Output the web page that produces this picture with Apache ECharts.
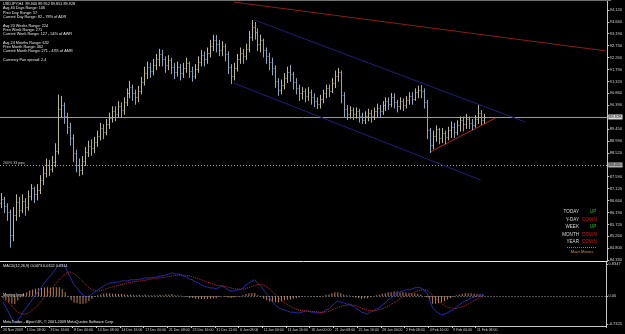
<!DOCTYPE html>
<html><head><meta charset="utf-8">
<script src="https://cdn.jsdelivr.net/npm/echarts@6/dist/echarts.min.js"></script>
<style>html,body{margin:0;padding:0;background:#000;}#c{width:625px;height:334px;}</style>
</head><body><div id="c"></div>
<script>
// ---------- data ----------
const firstOpen = 86.55;
const closes = [86.70,86.45,86.20,85.30,86.10,86.60,86.30,86.65,86.40,86.85,87.15,86.90,87.05,87.45,87.75,88.05,87.90,88.15,88.60,90.25,
90.40,89.95,89.55,89.10,88.50,88.05,87.85,88.20,88.55,88.80,88.70,88.95,89.20,89.50,89.35,89.65,89.90,90.15,90.05,90.35,
90.20,90.50,90.85,91.10,90.85,90.70,90.95,91.30,91.65,91.90,91.75,91.95,92.20,92.40,92.20,91.95,92.15,91.90,91.70,91.90,
91.65,91.85,92.05,91.75,91.55,91.80,92.10,92.35,92.20,92.45,92.70,92.95,92.80,92.55,92.70,92.40,91.90,91.55,91.85,92.20,
92.45,92.30,92.60,93.05,93.45,93.25,92.80,92.95,92.55,92.30,92.10,91.85,91.35,91.00,91.20,91.45,91.70,91.60,91.30,91.05,
90.85,90.95,90.75,90.90,90.70,90.55,90.45,90.65,90.85,91.05,90.95,91.25,91.55,91.70,90.80,90.25,90.05,90.20,90.05,90.15,
89.95,89.80,89.95,90.10,89.95,90.15,90.30,90.15,90.40,90.55,90.45,90.70,90.50,90.35,90.55,90.40,90.60,90.75,90.65,90.90,
91.00,90.95,90.50,89.40,88.85,89.20,89.45,89.10,89.30,89.15,89.40,89.55,89.35,89.60,89.80,89.65,89.85,89.70,89.60,89.85,
90.10,89.80,89.93];
const highs = [86.95,86.80,86.55,86.30,86.40,86.90,86.80,86.90,86.75,87.05,87.30,87.20,87.30,87.65,88.00,88.30,88.25,88.40,88.90,90.80,
90.75,90.50,90.10,89.70,89.25,88.65,88.30,88.40,88.75,89.00,89.05,89.15,89.40,89.70,89.65,89.85,90.10,90.35,90.35,90.55,
90.50,90.70,91.05,91.35,91.20,91.00,91.15,91.50,91.90,92.10,92.05,92.20,92.40,92.60,92.55,92.30,92.35,92.25,92.05,92.10,
92.00,92.05,92.25,92.10,91.90,92.00,92.30,92.55,92.50,92.65,92.95,93.15,93.14,92.95,92.90,92.80,92.50,92.00,92.05,92.40,
92.65,92.60,92.80,93.30,93.73,93.65,93.40,93.15,93.00,92.65,92.45,92.25,91.95,91.45,91.40,91.65,91.90,91.97,91.70,91.45,
91.20,91.10,91.05,91.10,91.00,90.85,90.70,90.80,91.00,91.20,91.20,91.45,91.75,91.85,91.75,90.90,90.40,90.35,90.30,90.30,
90.25,90.10,90.15,90.25,90.20,90.30,90.45,90.40,90.55,90.70,90.70,90.87,90.85,90.60,90.70,90.65,90.75,90.90,90.90,91.05,
91.15,91.18,91.05,90.60,89.50,89.40,89.60,89.50,89.50,89.40,89.55,89.75,89.70,89.80,89.95,89.95,90.05,89.95,89.85,90.00,
90.40,90.20,90.05];
const lows = [86.40,86.20,85.90,84.85,85.10,85.90,86.05,86.20,86.10,86.30,86.70,86.60,86.70,86.95,87.30,87.60,87.65,87.80,88.00,88.50,
89.95,89.70,89.30,88.85,88.20,87.80,87.65,87.70,88.05,88.40,88.45,88.55,88.80,89.05,89.10,89.25,89.50,89.75,89.80,89.95,
89.95,90.05,90.40,90.70,90.60,90.45,90.55,90.85,91.20,91.45,91.50,91.60,91.80,91.95,91.95,91.70,91.80,91.65,91.45,91.55,
91.40,91.50,91.70,91.50,91.35,91.45,91.70,91.95,91.95,92.05,92.30,92.55,92.50,92.35,92.35,92.15,91.65,91.26,91.40,91.75,
92.05,92.05,92.20,92.50,92.95,93.00,92.55,92.50,92.30,92.05,91.80,91.60,91.10,90.80,90.85,91.05,91.30,91.35,91.05,90.85,
90.60,90.65,90.55,90.60,90.45,90.35,90.28,90.30,90.50,90.70,90.75,90.90,91.10,91.35,90.50,89.95,89.85,89.90,89.85,89.90,
89.75,89.70,89.69,89.80,89.75,89.85,89.95,89.95,90.05,90.20,90.25,90.35,90.30,90.15,90.25,90.20,90.30,90.45,90.45,90.60,
90.70,90.70,90.30,89.10,88.56,88.70,89.00,88.90,88.95,88.90,89.05,89.15,89.15,89.25,89.40,89.40,89.50,89.50,89.45,89.55,
89.70,89.65,89.70];
const macdMain = [-0.16,-0.29,-0.44,-0.60,-0.70,-0.62,-0.52,-0.39,-0.29,-0.18,-0.08,0.03,0.13,0.23,0.34,0.44,0.52,0.62,0.73,0.81,
0.81,0.75,0.60,0.44,0.29,0.21,0.10,0.03,-0.03,0.00,0.05,0.10,0.16,0.21,0.26,0.31,0.34,0.34,0.36,0.36,
0.39,0.39,0.39,0.42,0.42,0.42,0.44,0.44,0.47,0.47,0.47,0.49,0.49,0.52,0.52,0.55,0.57,0.60,0.57,0.57,
0.55,0.52,0.49,0.44,0.42,0.36,0.34,0.29,0.26,0.23,0.21,0.21,0.18,0.23,0.26,0.21,0.16,0.13,0.13,0.16,
0.16,0.21,0.29,0.34,0.39,0.42,0.34,0.26,0.16,0.05,-0.05,-0.16,-0.23,-0.31,-0.34,-0.36,-0.39,-0.42,-0.42,-0.44,
-0.44,-0.42,-0.39,-0.39,-0.42,-0.42,-0.44,-0.44,-0.42,-0.36,-0.34,-0.26,-0.18,-0.13,-0.16,-0.18,-0.21,-0.21,-0.26,-0.31,
-0.36,-0.42,-0.44,-0.47,-0.42,-0.39,-0.34,-0.31,-0.23,-0.18,-0.10,-0.05,0.03,0.08,0.10,0.13,0.16,0.16,0.18,0.21,
0.23,0.21,0.16,0.10,-0.10,-0.31,-0.39,-0.44,-0.49,-0.47,-0.44,-0.39,-0.36,-0.29,-0.23,-0.18,-0.13,-0.10,-0.05,-0.03,
0.00,0.03,0.05];
const macdSignal = [-0.08,-0.12,-0.18,-0.26,-0.35,-0.42,-0.46,-0.47,-0.46,-0.42,-0.36,-0.29,-0.21,-0.12,-0.03,0.06,0.15,0.25,0.34,0.43,
0.51,0.58,0.62,0.62,0.58,0.52,0.45,0.37,0.29,0.22,0.17,0.14,0.13,0.14,0.16,0.19,0.22,0.24,0.26,0.28,
0.30,0.32,0.34,0.35,0.37,0.38,0.39,0.40,0.41,0.43,0.44,0.45,0.46,0.47,0.48,0.49,0.51,0.52,0.53,0.54,
0.54,0.54,0.53,0.52,0.50,0.47,0.45,0.42,0.39,0.36,0.33,0.31,0.28,0.27,0.26,0.25,0.23,0.21,0.19,0.18,
0.18,0.18,0.20,0.22,0.25,0.28,0.30,0.30,0.28,0.24,0.18,0.11,0.04,-0.04,-0.11,-0.17,-0.22,-0.27,-0.31,-0.34,
-0.37,-0.38,-0.39,-0.39,-0.40,-0.40,-0.41,-0.42,-0.42,-0.41,-0.40,-0.37,-0.34,-0.30,-0.27,-0.25,-0.24,-0.23,-0.24,-0.25,
-0.28,-0.31,-0.34,-0.37,-0.38,-0.38,-0.37,-0.36,-0.33,-0.30,-0.26,-0.22,-0.17,-0.12,-0.07,-0.03,0.01,0.04,0.07,0.10,
0.13,0.15,0.16,0.15,0.10,0.02,-0.06,-0.13,-0.20,-0.25,-0.29,-0.31,-0.32,-0.32,-0.30,-0.28,-0.25,-0.21,-0.17,-0.12,
-0.08,-0.03,0.02];
const macdHist = [-0.05,-0.10,-0.16,-0.20,-0.21,-0.12,-0.04,0.05,0.10,0.14,0.17,0.19,0.20,0.21,0.22,0.23,0.22,0.22,0.23,0.23,
0.18,0.10,-0.01,-0.11,-0.17,-0.19,-0.21,-0.20,-0.19,-0.13,-0.07,-0.02,0.02,0.04,0.06,0.07,0.07,0.06,0.06,0.05,
0.05,0.04,0.03,0.04,0.03,0.02,0.03,0.02,0.04,0.02,0.02,0.02,0.02,0.03,0.02,0.04,0.04,0.05,0.02,0.02,
0.01,-0.01,-0.02,-0.05,-0.05,-0.07,-0.07,-0.08,-0.08,-0.08,-0.07,-0.06,-0.06,-0.02,0.00,-0.02,-0.04,-0.05,-0.04,-0.01,
-0.01,0.02,0.05,0.07,0.08,0.08,0.02,-0.02,-0.07,-0.11,-0.14,-0.16,-0.16,-0.16,-0.14,-0.11,-0.10,-0.09,-0.07,-0.06,
-0.04,-0.02,0.00,0.00,-0.01,-0.01,-0.02,-0.01,0.00,0.03,0.04,0.07,0.10,0.10,0.07,0.04,0.02,0.01,-0.01,-0.04,
-0.05,-0.07,-0.06,-0.06,-0.02,0.00,0.02,0.03,0.06,0.07,0.10,0.10,0.12,0.12,0.10,0.10,0.09,0.07,0.07,0.07,
0.06,0.04,0.00,-0.03,-0.12,-0.20,-0.20,-0.19,-0.17,-0.13,-0.09,-0.05,-0.02,0.02,0.04,0.06,0.07,0.07,0.07,0.06,
0.05,0.04,0.03];
const totalSlots = 204;
const dateLabels = ["26 Nov 2009","1 Dec 08:00","3 Dec 16:00","8 Dec 00:00","10 Dec 08:00","14 Dec 16:00","17 Dec 00:00",
"21 Dec 08:00","23 Dec 16:00","31 Dec 12:00","6 Jan 08:00","11 Jan 00:00","13 Jan 16:00","18 Jan 00:00","21 Jan 08:00",
"25 Jan 16:00","28 Jan 00:00","2 Feb 08:00","4 Feb 16:00","9 Feb 00:00","11 Feb 08:00"];
const dateLabelStep = 8;
const priceTicks = [94.12,93.66,93.19,92.73,92.26,91.79,91.32,90.86,90.39,89.45,88.99,88.52,87.59,87.12,86.66,86.19,85.72,85.26,84.80,84.33];
const priceMin = 84.288, priceMax = 94.512;
const macdTicks = [0.8347, 0, -0.7325];
const macdMin = -0.779, macdMax = 0.883;
const bidPrice = 89.928;
const levelPrice = 88.05;
const levelText = "200% 33 pips";
const trendRed = [[78.3, 94.433], [203, 92.518]];
const channelUpper = [[85, 93.728], [175.7, 89.733]];
const channelLower = [[77.7, 91.26], [160.7, 87.461]];
const supportLine = [[144, 88.56], [166, 89.89]];
const infoLines = ["USDJPY,H4  89.900 89.952 89.851 89.928","Avg 40 Days Range: 106","Prev Day Range: 57",
"Current Day Range: 82 - 78% of ADR","","Avg 20 Weeks Range: 224","Prev Week Range: 271",
"Current Week Range: 127 - 54% of AWR","","Avg 24 Months Range: 632","Prev Month Range: 462",
"Current Month Range: 271 - 43% of AMR","","Currency Pair spread: 2.4"];
const moveNames = ["TODAY","Y-DAY","WEEK","MONTH","YEAR"];
const moveValues = ["UP","DOWN","UP","DOWN","DOWN"];
const macdTitle = "MACD(12,26,9) 0.0473 0.0152 0.0314";
const macdLevelText = "Moving level";
const copyright = "MetaTrader - Alpari UK, \u00a9 2001-2009 MetaQuotes Software Corp.";

// ---------- build ----------
const FONT = 'Liberation Sans';
const upColor = '#bdb98a', downColor = '#88a8c0';
const slots = Array.from({length: totalSlots}, (_, i) => String(i));
const ohlc = closes.map((c, i) => [i, i === 0 ? firstOpen : closes[i-1], highs[i], lows[i], c]);

function renderBar(params, api) {
  const i = api.value(0);
  const o = api.value(1), c = api.value(4);
  const ph = api.coord([i, api.value(2)]);
  const pl = api.coord([i, api.value(3)]);
  const po = api.coord([i, o]);
  const pc = api.coord([i, c]);
  const x = Math.round(ph[0]) + 0.5;
  const col = c >= o ? upColor : downColor;
  const yo = Math.round(po[1]) + 0.5, yc = Math.round(pc[1]) + 0.5;
  return {type: 'group', children: [
    {type: 'line', shape: {x1: x, y1: ph[1], x2: x, y2: pl[1] + 1}, style: {stroke: col, lineWidth: 1}},
    {type: 'line', shape: {x1: x - 1, y1: yo, x2: x, y2: yo}, style: {stroke: col, lineWidth: 1, opacity: 0.8}},
    {type: 'line', shape: {x1: x, y1: yc, x2: x + 1, y2: yc}, style: {stroke: col, lineWidth: 1, opacity: 0.8}}
  ]};
}
function seg(pts, color) {
  return [{coord: pts[0], lineStyle: {color: color, width: 1, type: 'solid'}, label: {show: false}}, {coord: pts[1]}];
}
const showDate = (i) => i % dateLabelStep === 0 && i / dateLabelStep < dateLabels.length;

const graphics = [];
graphics.push({type: 'rect', shape: {x: 0, y: 0, width: 611, height: 1}, style: {fill: '#707070'}, z: 100});
infoLines.forEach((t, k) => {
  if (!t) return;
  graphics.push({type: 'text', x: 3, y: 4 + k * 4.3, style: {text: t, fill: '#e6e6e6', fontSize: 3.8, fontFamily: FONT, verticalAlign: 'middle'}, z: 100});
});
moveNames.forEach((t, k) => {
  const y = 212 + k * 7.5;
  graphics.push({type: 'text', x: 579, y: y, style: {text: t, fill: '#d8d8d8', fontSize: 4.6, fontFamily: FONT, align: 'right', verticalAlign: 'middle'}, z: 100});
  const up = moveValues[k] === 'UP';
  graphics.push({type: 'text', x: up ? 593 : 589.5, y: y, style: {text: moveValues[k], fill: up ? '#1fbf1f' : '#d41c1c', fontSize: 4.6, fontFamily: FONT, align: 'center', verticalAlign: 'middle'}, z: 100});
});
graphics.push({type: 'line', shape: {x1: 567, y1: 247.5, x2: 597, y2: 247.5}, style: {stroke: '#b07030', lineWidth: 1, lineDash: [1, 1]}, z: 100});
graphics.push({type: 'text', x: 582, y: 251.5, style: {text: 'Main Moves', fill: '#e0901c', fontSize: 4.2, fontFamily: FONT, align: 'center', verticalAlign: 'middle'}, z: 100});
graphics.push({type: 'text', x: 3, y: 163, style: {text: levelText, fill: '#c8c8c8', fontSize: 3.6, fontFamily: FONT, verticalAlign: 'middle'}, z: 100});
graphics.push({type: 'text', x: 3, y: 266, style: {text: macdTitle, fill: '#e6e6e6', fontSize: 3.8, fontFamily: FONT, verticalAlign: 'middle'}, z: 100});
graphics.push({type: 'text', x: 3, y: 294.5, style: {text: macdLevelText, fill: '#e6e6e6', fontSize: 3.8, fontFamily: FONT, verticalAlign: 'middle'}, z: 100});
graphics.push({type: 'text', x: 3, y: 321.5, style: {text: copyright, fill: '#e6e6e6', fontSize: 3.8, fontFamily: FONT, verticalAlign: 'middle'}, z: 100});

const chart = echarts.init(document.getElementById('c'), null, {renderer: 'canvas'});
chart.setOption({
  backgroundColor: '#000000',
  animation: false,
  textStyle: {fontFamily: FONT},
  grid: [
    {left: 0, right: 14, top: 0, height: 261},
    {left: 0, right: 14, top: 262, height: 64}
  ],
  xAxis: [
    {type: 'category', gridIndex: 0, data: slots, boundaryGap: true,
     axisLine: {show: true, onZero: false, lineStyle: {color: '#e8e8e8', width: 1}},
     axisTick: {show: false}, axisLabel: {show: false}, splitLine: {show: false}},
    {type: 'category', gridIndex: 1, data: slots, boundaryGap: true,
     axisLine: {show: true, onZero: false, lineStyle: {color: '#c8c8c8', width: 1}},
     axisTick: {show: true, interval: showDate, length: 2, lineStyle: {color: '#c8c8c8'}},
     axisLabel: {show: true, interval: showDate, formatter: (v, i) => dateLabels[i / dateLabelStep] || '',
       color: '#d0d0d0', fontSize: 3.5, fontFamily: FONT, align: 'left', margin: 2.5},
     splitLine: {show: false}}
  ],
  yAxis: [
    {type: 'value', gridIndex: 0, position: 'right', min: priceMin, max: priceMax, scale: true,
     axisLine: {show: true, lineStyle: {color: '#c8c8c8', width: 1}},
     axisTick: {show: true, customValues: priceTicks, length: 2, lineStyle: {color: '#c8c8c8'}},
     axisLabel: {show: true, customValues: priceTicks, formatter: v => v.toFixed(3), color: '#d0d0d0', fontSize: 4, fontFamily: FONT, margin: 2.5},
     splitLine: {show: false}},
    {type: 'value', gridIndex: 1, position: 'right', min: macdMin, max: macdMax,
     axisLine: {show: true, lineStyle: {color: '#c8c8c8', width: 1}},
     axisTick: {show: true, customValues: macdTicks, length: 2, lineStyle: {color: '#c8c8c8'}},
     axisLabel: {show: true, customValues: macdTicks, formatter: v => v === 0 ? '0.00' : v.toFixed(4), color: '#d0d0d0', fontSize: 4, fontFamily: FONT, margin: 2.5},
     splitLine: {show: false}}
  ],
  series: [
    {type: 'custom', name: 'USDJPY', xAxisIndex: 0, yAxisIndex: 0, data: ohlc,
     encode: {x: 0, y: [1, 2, 3, 4]}, renderItem: renderBar, z: 3,
     markLine: {silent: true, symbol: 'none', animation: false, z: 2,
       data: [
         {yAxis: bidPrice, lineStyle: {color: '#9a9a9a', width: 1, type: 'solid'},
          label: {show: true, position: 'end', formatter: bidPrice.toFixed(3), color: '#000', backgroundColor: '#d8d8d8', fontSize: 4, fontFamily: FONT, padding: [1, 1, 0, 1], distance: 1}},
         {yAxis: levelPrice, lineStyle: {color: '#a0a0a0', width: 1, type: [1, 2]},
          label: {show: true, position: 'end', formatter: levelPrice.toFixed(3), color: '#000', backgroundColor: '#b0b0b0', fontSize: 4, fontFamily: FONT, padding: [1, 1, 0, 1], distance: 1}},
         seg(trendRed, '#8a1c1c'),
         seg(channelUpper, '#1e1e80'),
         seg(channelLower, '#1e1e80'),
         seg(supportLine, '#b82020')
       ]
     }},
    {type: 'bar', name: 'Hist', xAxisIndex: 1, yAxisIndex: 1, data: macdHist.map((v, i) => [i, v]),
     barWidth: 1, itemStyle: {color: '#c0804a'}, z: 2,
     markLine: {silent: true, symbol: 'none', animation: false,
       data: [{yAxis: 0, lineStyle: {color: '#a0a0a0', width: 1, type: [1, 2]}, label: {show: false}}]}},
    {type: 'line', name: 'Main', xAxisIndex: 1, yAxisIndex: 1, data: macdMain.map((v, i) => [i, v]),
     showSymbol: false, symbol: 'none', lineStyle: {color: '#2828b4', width: 1}, z: 3},
    {type: 'line', name: 'Signal', xAxisIndex: 1, yAxisIndex: 1, data: macdSignal.map((v, i) => [i, v]),
     showSymbol: false, symbol: 'none', lineStyle: {color: '#c03030', width: 1, type: [1, 1]}, z: 4}
  ],
  graphic: graphics
});
</script>
</body></html>
